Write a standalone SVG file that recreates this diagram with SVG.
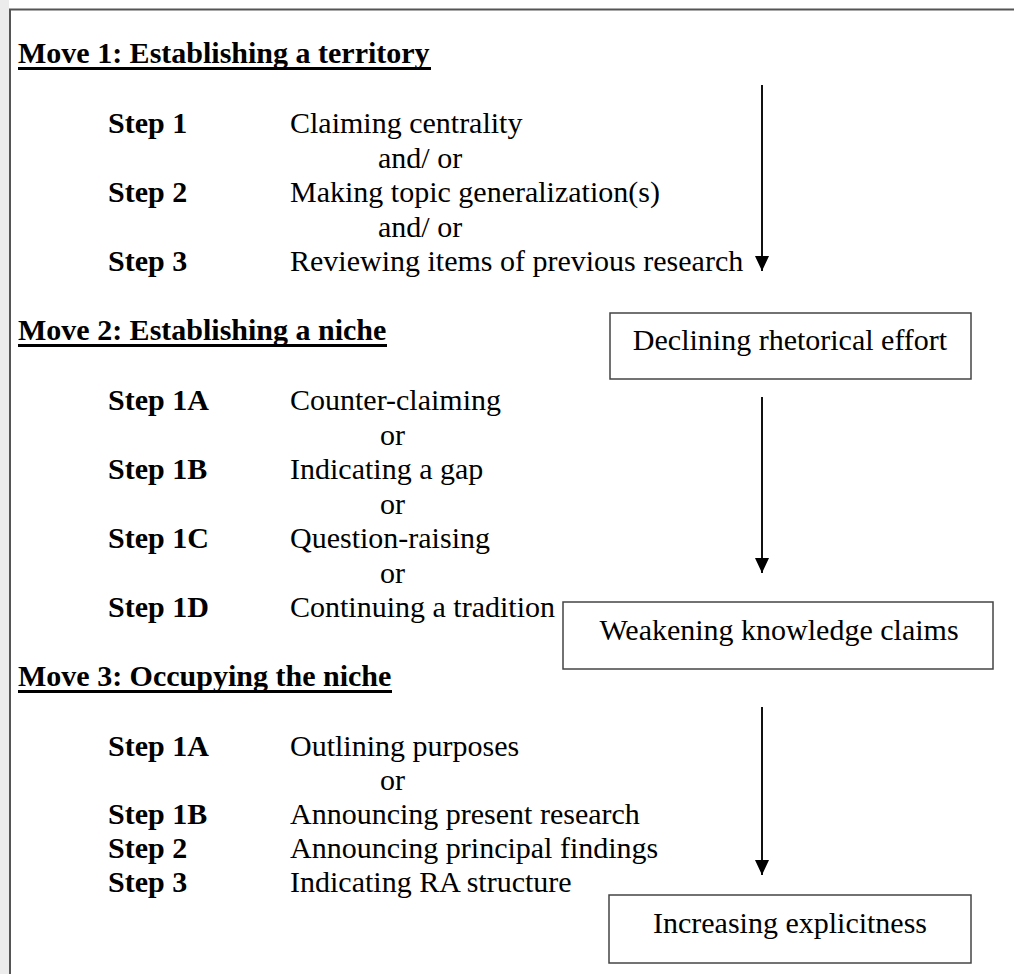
<svg xmlns="http://www.w3.org/2000/svg" width="1014" height="974" viewBox="0 0 1014 974">
<style>
  text { font-family: "Liberation Serif", "Times New Roman", serif; font-size: 30px; fill: #000; }
  .move { font-weight: bold; }
  .uline { stroke: #000; stroke-width: 3; }
  .step { font-weight: bold; }
  .box { fill: #fff; stroke: #444; stroke-width: 1.5; }
  .conn { stroke: #111; stroke-width: 2; fill: none; }
  .boxtext { text-anchor: middle; }
</style>
<defs>
  <marker id="ah" viewBox="0 0 15 14" refX="15" refY="7" markerWidth="15" markerHeight="14" markerUnits="userSpaceOnUse" orient="auto">
    <path d="M0,0 L15,7 L0,14 Z" fill="#000"/>
  </marker>
</defs>
<rect x="0" y="0" width="1014" height="974" fill="#fff"/>
<rect x="0" y="0" width="9" height="974" fill="#ececec"/>
<path d="M10,974 L10,9.5 L1014,9.5" fill="none" stroke="#555" stroke-width="2"/>

<g id="move1">
  <text class="move" x="18" y="63">Move 1: Establishing a territory</text>
  <line class="uline" x1="18" y1="68.5" x2="431" y2="68.5"/>
  <text class="step" x="108" y="133">Step 1</text>
  <text x="290" y="133">Claiming centrality</text>
  <text x="378" y="167.5">and/ or</text>
  <text class="step" x="108" y="202">Step 2</text>
  <text x="290" y="202">Making topic generalization(s)</text>
  <text x="378" y="236.5">and/ or</text>
  <text class="step" x="108" y="271">Step 3</text>
  <text x="290" y="271">Reviewing items of previous research</text>
</g>

<g id="move2">
  <text class="move" x="18" y="340">Move 2: Establishing a niche</text>
  <line class="uline" x1="18" y1="345.5" x2="387" y2="345.5"/>
  <text class="step" x="108" y="410">Step 1A</text>
  <text x="290" y="410">Counter-claiming</text>
  <text x="380" y="444.5">or</text>
  <text class="step" x="108" y="479">Step 1B</text>
  <text x="290" y="479">Indicating a gap</text>
  <text x="380" y="513.5">or</text>
  <text class="step" x="108" y="548">Step 1C</text>
  <text x="290" y="548">Question-raising</text>
  <text x="380" y="582.5">or</text>
  <text class="step" x="108" y="617">Step 1D</text>
  <text x="290" y="617">Continuing a tradition</text>
</g>

<g id="move3">
  <text class="move" x="18" y="686">Move 3: Occupying the niche</text>
  <line class="uline" x1="18" y1="691.5" x2="392" y2="691.5"/>
  <text class="step" x="108" y="756">Step 1A</text>
  <text x="290" y="756">Outlining purposes</text>
  <text x="380" y="790">or</text>
  <text class="step" x="108" y="824">Step 1B</text>
  <text x="290" y="824">Announcing present research</text>
  <text class="step" x="108" y="858">Step 2</text>
  <text x="290" y="858">Announcing principal findings</text>
  <text class="step" x="108" y="892">Step 3</text>
  <text x="290" y="892">Indicating RA structure</text>
</g>

<g id="box-declining">
  <rect class="box" x="610" y="313" width="361" height="66"/>
  <text class="boxtext" x="790" y="350">Declining rhetorical effort</text>
</g>

<g id="box-weakening">
  <rect class="box" x="563" y="602" width="430" height="67"/>
  <text class="boxtext" x="779" y="640">Weakening knowledge claims</text>
</g>

<g id="box-increasing">
  <rect class="box" x="609" y="895" width="362" height="68"/>
  <text class="boxtext" x="790" y="933">Increasing explicitness</text>
</g>

<g id="connectors">
  <line class="conn" x1="762" y1="85" x2="762" y2="271" marker-end="url(#ah)"/>
  <line class="conn" x1="762" y1="397" x2="762" y2="573" marker-end="url(#ah)"/>
  <line class="conn" x1="762" y1="707" x2="762" y2="875" marker-end="url(#ah)"/>
</g>
</svg>
